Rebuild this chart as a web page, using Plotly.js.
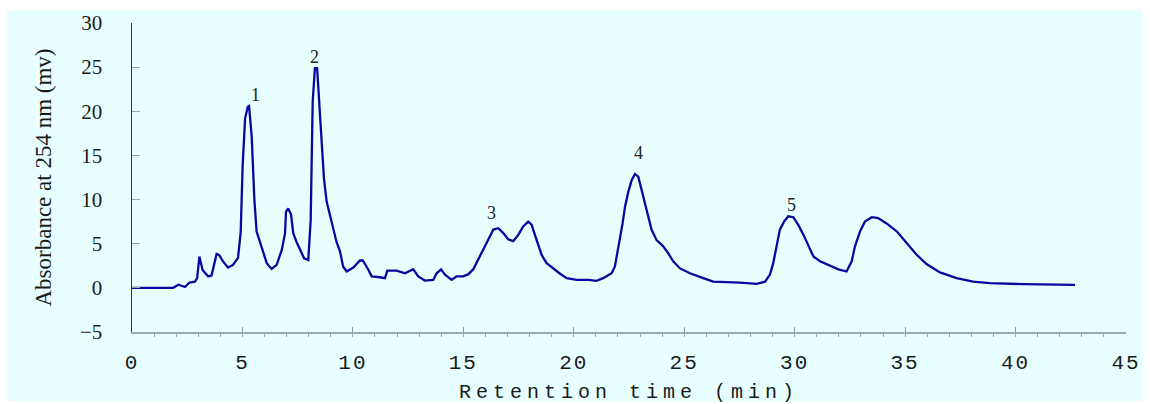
<!DOCTYPE html>
<html>
<head>
<meta charset="utf-8">
<script src="https://cdn.plot.ly/plotly-3.0.1.min.js"></script>
<style>
  html, body { margin: 0; padding: 0; background: #ffffff; }
  #bg { position: absolute; left: 7px; top: 10px; width: 1136px; height: 391px; background: #e8ffff; }
  #plot { position: absolute; left: 0; top: 0; width: 1150px; height: 404px; }
  .g-xtitle text { letter-spacing: 5px; }
  .xtick text { letter-spacing: 2px; }
</style>
</head>
<body>
<div id="bg"></div>
<div id="plot"></div>
<script>
// Retention time (min)
const time = [0, 1.86, 2.1, 2.4, 2.6, 2.85, 2.95, 3.05, 3.2, 3.45, 3.6, 3.83, 3.95, 4.12, 4.35, 4.57, 4.8, 4.92, 5.01, 5.12, 5.24, 5.3, 5.42, 5.54, 5.64, 5.8, 5.94, 6.1, 6.32, 6.55, 6.78, 6.93, 6.97, 7.07, 7.2, 7.3, 7.45, 7.6, 7.79, 7.98, 8.09, 8.18, 8.28, 8.38, 8.48, 8.59, 8.69, 8.81, 8.96, 9.11, 9.26, 9.42, 9.56, 9.72, 10.02, 10.32, 10.45, 10.7, 10.85, 11.22, 11.45, 11.56, 11.98, 12.36, 12.73, 12.96, 13.26, 13.64, 13.79, 13.99, 14.17, 14.47, 14.69, 15.0, 15.23, 15.45, 15.68, 15.9, 16.13, 16.36, 16.58, 16.81, 17.03, 17.26, 17.49, 17.71, 17.94, 18.09, 18.32, 18.55, 18.77, 19.07, 19.38, 19.68, 20.13, 20.66, 21.03, 21.33, 21.71, 21.86, 21.97, 22.09, 22.21, 22.32, 22.47, 22.62, 22.77, 22.92, 23.07, 23.22, 23.37, 23.52, 23.75, 24.05, 24.28, 24.5, 24.81, 25.26, 25.86, 26.31, 27.52, 28.28, 28.66, 28.88, 29.03, 29.18, 29.33, 29.52, 29.71, 29.94, 30.17, 30.4, 30.62, 30.85, 31.15, 31.6, 31.98, 32.35, 32.58, 32.73, 32.96, 33.18, 33.49, 33.78, 34.16, 34.62, 35.07, 35.52, 35.97, 36.58, 37.33, 38.08, 38.84, 40.35, 42.69];
// Absorbance at 254 nm (mv)
const absorbance = [0, 0, 0.35, 0.1, 0.6, 0.7, 1.1, 3.55, 2.0, 1.3, 1.4, 3.85, 3.7, 3.0, 2.3, 2.6, 3.4, 6.3, 13.9, 19.2, 20.5, 20.6, 17.1, 10, 6.4, 5.2, 3.95, 2.8, 2.15, 2.6, 4.3, 6.2, 8.6, 9.0, 8.3, 6.2, 5.2, 4.3, 3.35, 3.15, 7.7, 21.1, 24.9, 24.9, 21.1, 16, 12.4, 9.8, 8.3, 6.8, 5.2, 4.1, 2.4, 1.85, 2.3, 3.1, 3.1, 2.05, 1.3, 1.2, 1.1, 1.95, 1.95, 1.65, 2.1, 1.3, 0.83, 0.9, 1.65, 2.1, 1.5, 0.9, 1.3, 1.3, 1.55, 2.1, 3.2, 4.3, 5.4, 6.6, 6.75, 6.2, 5.5, 5.3, 6.0, 6.95, 7.5, 7.15, 5.4, 3.7, 2.8, 2.2, 1.6, 1.1, 0.9, 0.9, 0.8, 1.1, 1.65, 2.4, 3.9, 5.4, 7.3, 9.2, 10.9, 12.2, 12.9, 12.6, 11.1, 9.6, 7.9, 6.6, 5.4, 4.7, 3.9, 3.0, 2.2, 1.65, 1.1, 0.7, 0.6, 0.45, 0.7, 1.5, 2.8, 4.7, 6.6, 7.5, 8.1, 8.0, 7.1, 6.0, 4.7, 3.55, 3.0, 2.5, 2.1, 1.85, 3.0, 4.7, 6.4, 7.5, 8.0, 7.9, 7.3, 6.4, 5.1, 3.75, 2.7, 1.75, 1.1, 0.7, 0.53, 0.42, 0.34];
// Peak labels
const peakLabels = ["1", "2", "3", "4", "5"];
const peakX = [5.6, 8.28, 16.28, 22.92, 29.86];
const peakY = [21.9, 26.2, 8.45, 15.3, 9.4];

const trace = {
  x: time, y: absorbance, type: 'scatter', mode: 'lines',
  line: { color: '#0808a0', width: 2.3 },
  hoverinfo: 'skip', showlegend: false
};

const annotations = peakLabels.map((t, i) => ({
  x: peakX[i], y: peakY[i], xref: 'x', yref: 'y', text: t, showarrow: false,
  font: { family: 'Liberation Serif, serif', size: 18, color: '#222222' }
}));

const layout = {
  width: 1150, height: 404,
  margin: { l: 132, r: 24, t: 23, b: 72, pad: 0 },
  paper_bgcolor: 'rgba(0,0,0,0)', plot_bgcolor: 'rgba(0,0,0,0)',
  showlegend: false,
  xaxis: {
    range: [0, 45], tickvals: [0, 5, 10, 15, 20, 25, 30, 35, 40, 45],
    ticks: 'inside', ticklen: 5, tickwidth: 1, tickcolor: '#8a9a9a',
    minor: { dtick: 1, ticks: 'outside', ticklen: 3, tickcolor: '#9aaaaa', tickwidth: 1, showgrid: false },
    showline: true, linecolor: '#9aaaaa', linewidth: 1.5,
    showgrid: false, zeroline: false,
    tickfont: { family: 'Liberation Mono, monospace', size: 21, color: '#1a1a1a' },
    ticklabelstandoff: 10,
    title: { text: 'Retention time (min)', standoff: 14,
      font: { family: 'Liberation Mono, monospace', size: 20, color: '#1a1a1a' } }
  },
  yaxis: {
    range: [-5, 30], tickvals: [-5, 0, 5, 10, 15, 20, 25, 30],
    ticks: 'inside', ticklen: 8, tickwidth: 1, tickcolor: '#9aaaaa',
    showline: true, linecolor: '#333333', linewidth: 1.5,
    showgrid: false, zeroline: false,
    tickfont: { family: 'Liberation Serif, serif', size: 21, color: '#1a1a1a' },
    ticklabelstandoff: 24,
    title: { text: 'Absorbance at 254 nm (mv)', standoff: 22,
      font: { family: 'Liberation Serif, serif', size: 23, color: '#1a1a1a' } }
  },
  annotations: annotations
};

Plotly.newPlot('plot', [trace], layout, { staticPlot: true, displayModeBar: false });
</script>
</body>
</html>
